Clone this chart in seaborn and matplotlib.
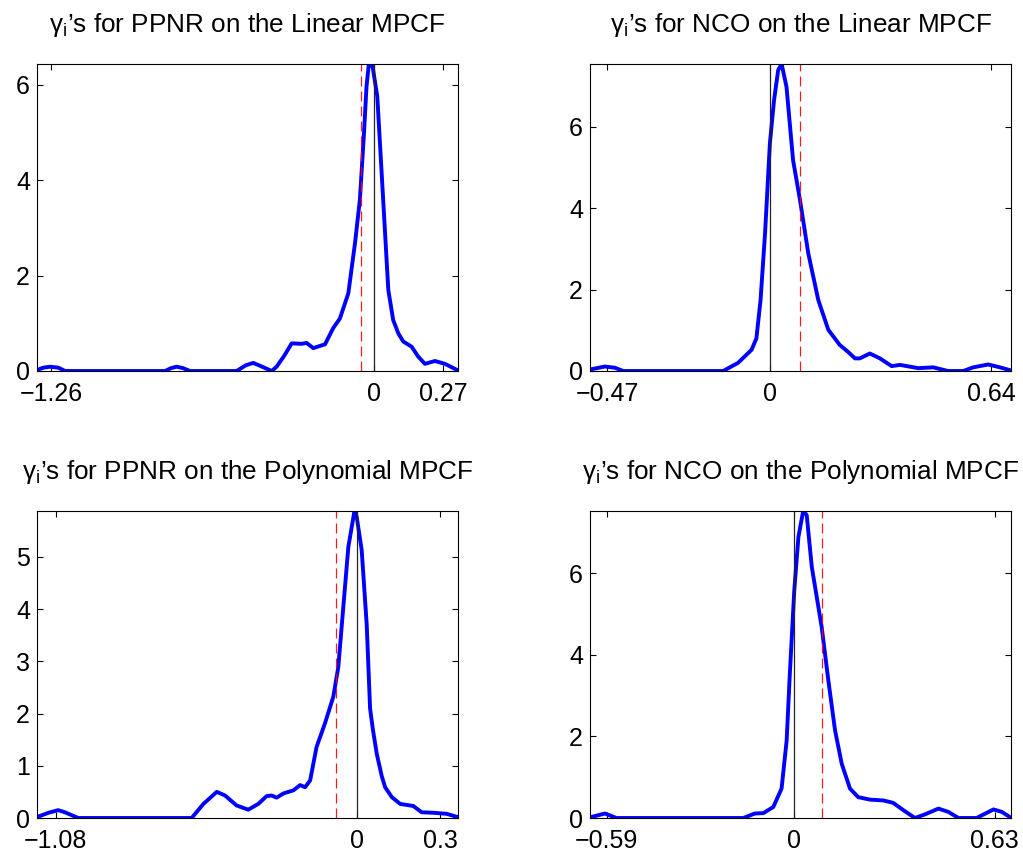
import numpy as np
import pandas as pd
import matplotlib
matplotlib.use("Agg")
import matplotlib.pyplot as plt
import seaborn as sns

# ---------------- data ----------------
titles = [
    "γ$_\\mathrm{i}$’s for PPNR on the Linear MPCF",
    "γ$_\\mathrm{i}$’s for NCO on the Linear MPCF",
    "γ$_\\mathrm{i}$’s for PPNR on the Polynomial MPCF",
    "γ$_\\mathrm{i}$’s for NCO on the Polynomial MPCF",
]

p1_x = [-1.316, -1.29, -1.264, -1.232, -1.205, -0.815, -0.792, -0.770, -0.745, -0.718,
        -0.536, -0.500, -0.471, -0.432, -0.399, -0.380, -0.350, -0.321, -0.282, -0.263,
        -0.237, -0.191, -0.159, -0.133, -0.100, -0.074, -0.055, -0.039, -0.029, -0.020,
        -0.005, 0.013, 0.036, 0.056, 0.075, 0.095, 0.114, 0.147, 0.173, 0.199,
        0.238, 0.277, 0.325]
p1_y = [0.02, 0.07, 0.09, 0.07, 0.00, 0.00, 0.06, 0.09, 0.06, 0.00,
        0.00, 0.12, 0.17, 0.08, 0.00, 0.09, 0.32, 0.58, 0.57, 0.59,
        0.48, 0.56, 0.90, 1.10, 1.63, 2.68, 3.59, 4.98, 5.97, 6.44,
        6.38, 5.76, 3.59, 1.70, 1.07, 0.79, 0.62, 0.51, 0.30, 0.15,
        0.21, 0.15, 0.02]

p2_x = [-0.518, -0.477, -0.448, -0.424, -0.135, -0.092, -0.053, -0.039, -0.027, -0.014,
        0.000, 0.012, 0.024, 0.034, 0.048, 0.067, 0.087, 0.111, 0.140, 0.169,
        0.202, 0.226, 0.246, 0.260, 0.289, 0.318, 0.352, 0.376, 0.429, 0.472,
        0.515, 0.559, 0.588, 0.631, 0.665, 0.694]
p2_y = [0.04, 0.11, 0.08, 0.00, 0.00, 0.20, 0.52, 0.80, 1.74, 3.38,
        5.59, 6.65, 7.39, 7.54, 6.98, 5.18, 4.20, 2.89, 1.74, 1.01,
        0.64, 0.47, 0.31, 0.31, 0.43, 0.31, 0.12, 0.15, 0.07, 0.09,
        0.00, 0.00, 0.09, 0.16, 0.09, 0.02]

p3_x = [-1.146, -1.106, -1.071, -1.047, -0.999, -0.592, -0.550, -0.502, -0.472, -0.431,
        -0.389, -0.353, -0.323, -0.305, -0.287, -0.263, -0.227, -0.203, -0.185, -0.167,
        -0.144, -0.114, -0.084, -0.066, -0.048, -0.030, -0.008, 0.000, 0.018, 0.036,
        0.048, 0.058, 0.072, 0.090, 0.102, 0.126, 0.156, 0.203, 0.233, 0.275,
        0.323, 0.361]
p3_y = [0.02, 0.10, 0.15, 0.11, 0.00, 0.00, 0.27, 0.50, 0.43, 0.24,
        0.16, 0.27, 0.42, 0.43, 0.39, 0.47, 0.53, 0.63, 0.59, 0.72,
        1.36, 1.81, 2.32, 2.89, 4.04, 5.19, 5.88, 5.77, 5.13, 3.70,
        2.10, 1.70, 1.23, 0.80, 0.59, 0.40, 0.27, 0.23, 0.11, 0.10,
        0.08, 0.02]

p4_x = [-0.640, -0.595, -0.559, -0.160, -0.124, -0.097, -0.066, -0.040, -0.024, -0.014,
        0.000, 0.013, 0.028, 0.039, 0.055, 0.086, 0.107, 0.128, 0.149, 0.175,
        0.201, 0.238, 0.280, 0.311, 0.343, 0.379, 0.411, 0.453, 0.484, 0.516,
        0.573, 0.626, 0.652, 0.678]
p4_y = [0.02, 0.11, 0.00, 0.00, 0.11, 0.12, 0.27, 0.72, 1.90, 3.54,
        5.58, 6.89, 7.52, 7.42, 6.15, 4.68, 3.37, 2.15, 1.33, 0.72,
        0.51, 0.45, 0.43, 0.37, 0.19, 0.00, 0.09, 0.23, 0.15, 0.00,
        0.00, 0.21, 0.15, 0.02]

red_lines = [-0.052, 0.087, -0.074, 0.087]
xlims = [(-1.315, 0.328), (-0.520, 0.697), (-1.147, 0.3635), (-0.642, 0.681)]
xtick_vals = [[-1.26, 0, 0.27], [-0.47, 0, 0.64], [-1.08, 0, 0.3], [-0.59, 0, 0.63]]
xtick_labels = [["\u22121.26", "0", "0.27"], ["\u22120.47", "0", "0.64"],
                ["\u22121.08", "0", "0.3"], ["\u22120.59", "0", "0.63"]]
ytick_vals = [[0, 2, 4, 6], [0, 2, 4, 6], [0, 1, 2, 3, 4, 5], [0, 2, 4, 6]]

curves = [(p1_x, p1_y), (p2_x, p2_y), (p3_x, p3_y), (p4_x, p4_y)]

# ---------------- style ----------------
sns.set_style("white")
plt.rcParams["font.family"] = ["Liberation Sans", "DejaVu Sans"]
plt.rcParams["mathtext.fontset"] = "custom"
plt.rcParams["mathtext.rm"] = "Liberation Sans"
plt.rcParams["mathtext.it"] = "Liberation Sans:italic"
plt.rcParams["text.color"] = "black"
plt.rcParams["axes.titlecolor"] = "black"

fig = plt.figure(figsize=(10.23, 8.57), dpi=100)
W, H = 1023.0, 857.0
boxes = [(37, 64, 458, 371), (590, 64, 1011, 371), (37, 511, 458, 818), (590, 511, 1011, 818)]

for i, (l, t, r, b) in enumerate(boxes):
    ax = fig.add_axes([l / W, 1 - b / H, (r - l) / W, (b - t) / H])
    cx, cy = curves[i]
    df = pd.DataFrame({"x": cx, "y": cy})
    sns.lineplot(data=df, x="x", y="y", ax=ax, color="#0000ff", linewidth=2.8,
                 estimator=None, sort=False)
    ax.axvline(0, color="#222222", linewidth=0.9)
    ax.axvline(red_lines[i], color="#ff0000", linewidth=0.9, dashes=(8, 4), alpha=0.9)
    ax.set_xlim(*xlims[i])
    ax.set_ylim(0, max(cy))
    ax.set_xticks(xtick_vals[i])
    ax.set_xticklabels(xtick_labels[i])
    ax.set_yticks(ytick_vals[i])
    ax.set_yticklabels([str(v) for v in ytick_vals[i]])
    ax.set_xlabel("")
    ax.set_ylabel("")
    ax.tick_params(direction="in", length=4, width=0.8, top=True, right=True,
                   bottom=True, left=True, labelsize=18, colors="black")
    ax.tick_params(axis="x", pad=8)
    ax.tick_params(axis="y", pad=5)
    for s in ax.spines.values():
        s.set_color("black")
        s.set_linewidth(0.8)
        s.set_visible(True)
    ax.set_title(titles[i], fontsize=18.8, pad=23, color="black")

fig.savefig("out.png", dpi=100)
